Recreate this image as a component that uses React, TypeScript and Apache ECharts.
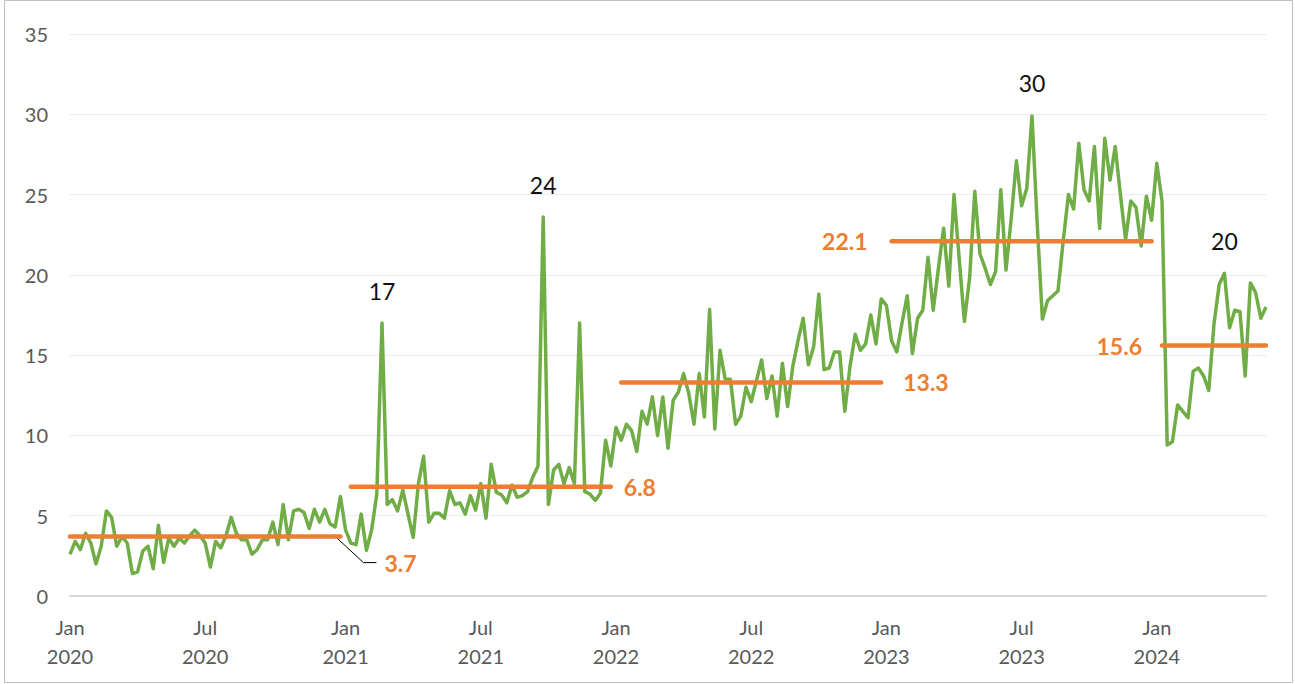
import React, { useEffect, useRef } from "react";
import * as echarts from "echarts";

// ---- data ----
const START_DATE = "2020-01-01"; // weekly observations from this date

const weeklyValues = [
  2.6, 3.4, 2.9, 3.9, 3.3, 2.0, 3.1, 5.3, 4.9, 3.1,
  3.7, 3.3, 1.4, 1.5, 2.8, 3.1, 1.7, 4.4, 2.1, 3.6,
  3.1, 3.6, 3.3, 3.75, 4.1, 3.75, 3.3, 1.8, 3.4, 3.0,
  3.75, 4.9, 3.9, 3.5, 3.5, 2.6, 2.9, 3.5, 3.5, 4.6,
  3.2, 5.7, 3.5, 5.3, 5.4, 5.2, 4.2, 5.4, 4.6, 5.4,
  4.5, 4.3, 6.2, 4.1, 3.3, 3.2, 5.1, 2.85, 4.1, 6.35,
  17.0, 5.7, 6.0, 5.3, 6.6, 5.1, 3.65, 7.0, 8.7, 4.6,
  5.15, 5.15, 4.85, 6.55, 5.7, 5.8, 5.1, 6.25, 5.35, 7.0,
  4.85, 8.2, 6.45, 6.3, 5.8, 6.9, 6.15, 6.25, 6.5, 7.4,
  8.1, 23.6, 5.7, 7.85, 8.2, 7.0, 8.0, 7.0, 17.0, 6.5,
  6.35, 5.95, 6.4, 9.7, 8.1, 10.5, 9.7, 10.7, 10.3, 9.0,
  11.5, 10.7, 12.4, 10.0, 12.4, 9.2, 12.2, 12.7, 13.85, 12.6,
  10.7, 13.85, 11.15, 17.85, 10.4, 15.3, 13.5, 13.5, 10.7, 11.2,
  13.0, 12.1, 13.4, 14.7, 12.3, 13.7, 11.2, 14.5, 11.8, 14.3,
  15.9, 17.3, 14.4, 15.5, 18.8, 14.1, 14.2, 15.2, 15.2, 11.5,
  14.3, 16.3, 15.3, 15.7, 17.5, 15.7, 18.5, 18.1, 15.9, 15.2,
  17.0, 18.7, 15.1, 17.3, 17.8, 21.1, 17.8, 20.4, 22.9, 19.3,
  25.0, 21.0, 17.1, 19.8, 25.2, 21.3, 20.4, 19.4, 20.2, 25.3,
  20.3, 23.5, 27.1, 24.3, 25.4, 29.9, 23.2, 17.25, 18.4, 18.7,
  19.0, 22.1, 25.0, 24.1, 28.2, 25.3, 24.6, 28.0, 22.9, 28.5,
  25.9, 28.0, 25.0, 22.2, 24.6, 24.2, 21.8, 24.9, 23.4, 26.95,
  24.6, 9.4, 9.6, 11.9, 11.5, 11.1, 14.0, 14.2, 13.7, 12.8,
  16.95, 19.4, 20.1, 16.7, 17.8, 17.7, 13.7, 19.5, 18.9, 17.3,
  18.0,
];

const peakIndices = [60, 91, 185, 222];

const avgValues = [3.7, 6.8, 13.3, 22.1, 15.6];
const avgStart = [0, 54, 106, 158, 210];
const avgEnd = [52, 104, 156, 208, 230];
const avgLabelSide = ["right", "right", "right", "left", "left"];

const MONTHS = ["Jan", "Feb", "Mar", "Apr", "May", "Jun", "Jul", "Aug", "Sep", "Oct", "Nov", "Dec"];

const Y_MIN = 0;
const Y_MAX = 35;
const Y_INTERVAL = 5;

// ---- styles ----
const FONT = "Lato, 'Open Sans', sans-serif";
const GREEN = "#70ad47";
const ORANGE = "#ed7d31";
const AXIS_TEXT = "#595959";

function buildCategories(): string[] {
  const start = Date.parse(START_DATE + "T00:00:00Z");
  return weeklyValues.map((_, i) => new Date(start + i * 7 * 86400000).toISOString().slice(0, 10));
}

export default function App() {
  const ref = useRef<HTMLDivElement>(null);

  useEffect(() => {
    if (!ref.current) return;
    const chart = echarts.init(ref.current, undefined, { renderer: "svg" });
    const categories = buildCategories();

    const greenData = weeklyValues.map((v, i) =>
      peakIndices.includes(i) ? { value: v, label: { show: true } } : v
    );

    const avgSeries = avgValues.map((val, k) => {
      const labelIdx = avgLabelSide[k] === "right" ? avgEnd[k] : avgStart[k];
      const labelCfg: any =
        k === 0
          ? { show: true, position: "right", distance: 0, offset: [44, 26] }
          : {
              show: true,
              position: avgLabelSide[k],
              distance: [0, 13, 22, 24, 20][k],
            };
      return {
        type: "line",
        data: categories.map((_, i) => {
          if (i < avgStart[k] || i > avgEnd[k]) return null;
          if (i === labelIdx) return { value: val, label: labelCfg };
          return val;
        }),
        showSymbol: true,
        showAllSymbol: true,
        symbol: "circle",
        symbolSize: 0,
        silent: true,
        z: 3,
        lineStyle: { color: ORANGE, width: 4.5, cap: "round" },
        itemStyle: { color: ORANGE },
        label: {
          show: false,
          color: ORANGE,
          fontFamily: FONT,
          fontWeight: "bold",
          fontSize: 23,
          formatter: (p: any) => String(p.value),
        },
        emphasis: { disabled: true },
      };
    });

    const borderRect = {
      type: "rect",
      shape: { x: 4.5, y: 0.5, width: 1288, height: 682 },
      style: { fill: "none", stroke: "#bfbfbf", lineWidth: 1 },
      silent: true,
      z: 0,
    };

    chart.setOption({
      animation: false,
      backgroundColor: "#ffffff",
      grid: { left: 70, right: 29, top: 34, bottom: 88, containLabel: false },
      xAxis: {
        type: "category",
        data: categories,
        boundaryGap: false,
        axisLine: { show: true, lineStyle: { color: "#d9d9d9", width: 2 } },
        axisTick: { show: false },
        splitLine: { show: false },
        axisLabel: {
          interval: (index: number, value: string) => {
            const d = new Date(value + "T00:00:00Z");
            const m = d.getUTCMonth();
            return (m === 0 || m === 6) && d.getUTCDate() <= 7;
          },
          formatter: (value: string) => {
            const d = new Date(value + "T00:00:00Z");
            return MONTHS[d.getUTCMonth()] + "\n" + d.getUTCFullYear();
          },
          hideOverlap: false,
          color: AXIS_TEXT,
          fontFamily: FONT,
          fontSize: 20,
          lineHeight: 29,
          margin: 16,
        },
      },
      yAxis: {
        type: "value",
        min: Y_MIN,
        max: Y_MAX,
        interval: Y_INTERVAL,
        axisLine: { show: false },
        axisTick: { show: false },
        splitLine: { show: true, lineStyle: { color: "#ebebeb", width: 1 } },
        axisLabel: { color: AXIS_TEXT, fontFamily: FONT, fontSize: 20, margin: 22 },
      },
      series: [
        {
          type: "line",
          data: greenData,
          showSymbol: true,
          showAllSymbol: true,
          symbol: "circle",
          symbolSize: 0,
          silent: true,
          z: 2,
          lineStyle: { color: GREEN, width: 3.5, join: "round" },
          itemStyle: { color: GREEN },
          label: {
            show: false,
            position: "top",
            distance: 21,
            color: "#111111",
            fontFamily: FONT,
            fontSize: 23,
            formatter: (p: any) => String(Math.round(p.value)),
          },
          emphasis: { disabled: true },
        },
        ...avgSeries,
      ],
      graphic: [borderRect],
    });

    // leader line from the first average segment to its label
    const p = chart.convertToPixel({ xAxisIndex: 0, yAxisIndex: 0 }, [avgEnd[0], avgValues[0]]) as number[];
    if (p) {
      chart.setOption({
        graphic: [
          borderRect,
          {
            type: "polyline",
            shape: {
              points: [
                [p[0] - 5, p[1]],
                [p[0] + 23, p[1] + 26],
                [p[0] + 36, p[1] + 26],
              ],
            },
            style: { fill: "none", stroke: "#000000", lineWidth: 1 },
            silent: true,
            z: 1,
          },
        ],
      });
    }

    return () => chart.dispose();
  }, []);

  return (
    <div
      ref={ref}
      style={{ position: "absolute", left: 0, top: 0, width: 1295, height: 684 }}
    />
  );
}
